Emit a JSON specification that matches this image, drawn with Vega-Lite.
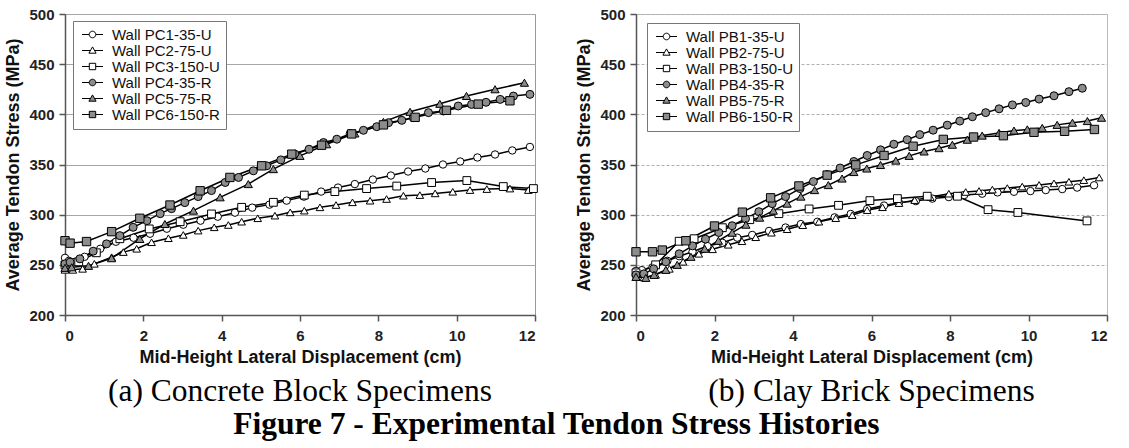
{
  "$schema": "https://vega.github.io/schema/vega-lite/v6.json",
  "padding": {"left": 4, "top": 6, "right": 0, "bottom": 0},
  "background": "white",
  "bounds": "flush",
  "spacing": 101,
  "resolve": {"scale": {"shape": "independent", "fill": "independent", "size": "independent"}, "legend": {"shape": "independent", "fill": "independent"}},
  "title": {"text": "Figure 7 - Experimental Tendon Stress Histories", "orient": "bottom", "anchor": "middle", "font": "Liberation Serif", "fontSize": 31.5, "fontWeight": "bold", "color": "black", "offset": 1},
  "config": {
    "axis": {"labelFont": "Liberation Sans", "labelFontSize": 15, "labelFontWeight": "bold", "labelColor": "#222", "titleFont": "Liberation Sans", "titleFontSize": 18, "titleFontWeight": "bold", "titleColor": "#111", "domainColor": "#555", "domainWidth": 1.5, "tickColor": "#555", "tickSize": 6, "tickWidth": 1.5, "gridColor": "#a6a6a6", "gridWidth": 1},
    "axisY": {"labelPadding": 5, "titlePadding": 6},
    "axisX": {"labelPadding": 7, "titlePadding": 5, "grid": false},
    "legend": {"labelFont": "Liberation Sans"}
  },
  "datasets": {
    "d": [
      {"p":"a","s":"Wall PC1-35-U","x":0,"y":257},{"p":"a","s":"Wall PC1-35-U","x":0.1,"y":254},{"p":"a","s":"Wall PC1-35-U","x":0.25,"y":253},{"p":"a","s":"Wall PC1-35-U","x":0.5,"y":258},{"p":"a","s":"Wall PC1-35-U","x":0.9,"y":266},{"p":"a","s":"Wall PC1-35-U","x":1.3,"y":273},{"p":"a","s":"Wall PC1-35-U","x":1.75,"y":277},{"p":"a","s":"Wall PC1-35-U","x":2.17,"y":281},{"p":"a","s":"Wall PC1-35-U","x":2.6,"y":286},{"p":"a","s":"Wall PC1-35-U","x":3.02,"y":290},{"p":"a","s":"Wall PC1-35-U","x":3.46,"y":294},{"p":"a","s":"Wall PC1-35-U","x":3.9,"y":298},{"p":"a","s":"Wall PC1-35-U","x":4.34,"y":302},{"p":"a","s":"Wall PC1-35-U","x":4.78,"y":307},{"p":"a","s":"Wall PC1-35-U","x":5.22,"y":310},{"p":"a","s":"Wall PC1-35-U","x":5.66,"y":314},{"p":"a","s":"Wall PC1-35-U","x":6.1,"y":318},{"p":"a","s":"Wall PC1-35-U","x":6.54,"y":323},{"p":"a","s":"Wall PC1-35-U","x":6.97,"y":327},{"p":"a","s":"Wall PC1-35-U","x":7.4,"y":330.5},{"p":"a","s":"Wall PC1-35-U","x":7.86,"y":335},{"p":"a","s":"Wall PC1-35-U","x":8.32,"y":339},{"p":"a","s":"Wall PC1-35-U","x":8.76,"y":343},{"p":"a","s":"Wall PC1-35-U","x":9.2,"y":346},{"p":"a","s":"Wall PC1-35-U","x":9.65,"y":350},{"p":"a","s":"Wall PC1-35-U","x":10.09,"y":353},{"p":"a","s":"Wall PC1-35-U","x":10.53,"y":357},{"p":"a","s":"Wall PC1-35-U","x":10.98,"y":360},{"p":"a","s":"Wall PC1-35-U","x":11.42,"y":364},{"p":"a","s":"Wall PC1-35-U","x":11.87,"y":367.5},
      {"p":"a","s":"Wall PC2-75-U","x":0,"y":245},{"p":"a","s":"Wall PC2-75-U","x":0.2,"y":245},{"p":"a","s":"Wall PC2-75-U","x":0.45,"y":246},{"p":"a","s":"Wall PC2-75-U","x":0.75,"y":251},{"p":"a","s":"Wall PC2-75-U","x":1.19,"y":257.6},{"p":"a","s":"Wall PC2-75-U","x":1.49,"y":262.7},{"p":"a","s":"Wall PC2-75-U","x":1.83,"y":266},{"p":"a","s":"Wall PC2-75-U","x":2.21,"y":272.5},{"p":"a","s":"Wall PC2-75-U","x":2.64,"y":276.5},{"p":"a","s":"Wall PC2-75-U","x":3.02,"y":279.8},{"p":"a","s":"Wall PC2-75-U","x":3.4,"y":284.1},{"p":"a","s":"Wall PC2-75-U","x":3.81,"y":287.4},{"p":"a","s":"Wall PC2-75-U","x":4.17,"y":289.7},{"p":"a","s":"Wall PC2-75-U","x":4.51,"y":293},{"p":"a","s":"Wall PC2-75-U","x":4.92,"y":296.4},{"p":"a","s":"Wall PC2-75-U","x":5.36,"y":299},{"p":"a","s":"Wall PC2-75-U","x":5.75,"y":302.3},{"p":"a","s":"Wall PC2-75-U","x":6.11,"y":304},{"p":"a","s":"Wall PC2-75-U","x":6.51,"y":307.3},{"p":"a","s":"Wall PC2-75-U","x":6.92,"y":309.6},{"p":"a","s":"Wall PC2-75-U","x":7.34,"y":312.3},{"p":"a","s":"Wall PC2-75-U","x":7.79,"y":313.9},{"p":"a","s":"Wall PC2-75-U","x":8.21,"y":315.6},{"p":"a","s":"Wall PC2-75-U","x":8.64,"y":318.9},{"p":"a","s":"Wall PC2-75-U","x":9.06,"y":319.5},{"p":"a","s":"Wall PC2-75-U","x":9.45,"y":321.2},{"p":"a","s":"Wall PC2-75-U","x":9.9,"y":322.8},{"p":"a","s":"Wall PC2-75-U","x":10.34,"y":324.5},{"p":"a","s":"Wall PC2-75-U","x":10.77,"y":325.5},{"p":"a","s":"Wall PC2-75-U","x":11.36,"y":326},{"p":"a","s":"Wall PC2-75-U","x":11.83,"y":324.5},
      {"p":"a","s":"Wall PC3-150-U","x":0,"y":250},{"p":"a","s":"Wall PC3-150-U","x":0.35,"y":253},{"p":"a","s":"Wall PC3-150-U","x":0.8,"y":262},{"p":"a","s":"Wall PC3-150-U","x":1.4,"y":276},{"p":"a","s":"Wall PC3-150-U","x":2.15,"y":285.8},{"p":"a","s":"Wall PC3-150-U","x":2.94,"y":293},{"p":"a","s":"Wall PC3-150-U","x":3.74,"y":300.7},{"p":"a","s":"Wall PC3-150-U","x":4.51,"y":307.3},{"p":"a","s":"Wall PC3-150-U","x":5.32,"y":312.3},{"p":"a","s":"Wall PC3-150-U","x":6.11,"y":319.5},{"p":"a","s":"Wall PC3-150-U","x":6.89,"y":323},{"p":"a","s":"Wall PC3-150-U","x":7.7,"y":326},{"p":"a","s":"Wall PC3-150-U","x":8.47,"y":328.5},{"p":"a","s":"Wall PC3-150-U","x":9.36,"y":332},{"p":"a","s":"Wall PC3-150-U","x":10.26,"y":334},{"p":"a","s":"Wall PC3-150-U","x":11.19,"y":328},{"p":"a","s":"Wall PC3-150-U","x":11.96,"y":326},
      {"p":"a","s":"Wall PC4-35-R","x":0,"y":251},{"p":"a","s":"Wall PC4-35-R","x":0.13,"y":252.7},{"p":"a","s":"Wall PC4-35-R","x":0.38,"y":256},{"p":"a","s":"Wall PC4-35-R","x":0.72,"y":263.6},{"p":"a","s":"Wall PC4-35-R","x":1.06,"y":270.9},{"p":"a","s":"Wall PC4-35-R","x":1.4,"y":279.1},{"p":"a","s":"Wall PC4-35-R","x":1.74,"y":287.4},{"p":"a","s":"Wall PC4-35-R","x":2.09,"y":294},{"p":"a","s":"Wall PC4-35-R","x":2.43,"y":301},{"p":"a","s":"Wall PC4-35-R","x":2.72,"y":306},{"p":"a","s":"Wall PC4-35-R","x":3.06,"y":312},{"p":"a","s":"Wall PC4-35-R","x":3.4,"y":318},{"p":"a","s":"Wall PC4-35-R","x":3.74,"y":324},{"p":"a","s":"Wall PC4-35-R","x":4.09,"y":332.1},{"p":"a","s":"Wall PC4-35-R","x":4.43,"y":337.1},{"p":"a","s":"Wall PC4-35-R","x":4.81,"y":343.7},{"p":"a","s":"Wall PC4-35-R","x":5.15,"y":348.7},{"p":"a","s":"Wall PC4-35-R","x":5.51,"y":354.6},{"p":"a","s":"Wall PC4-35-R","x":5.87,"y":360.3},{"p":"a","s":"Wall PC4-35-R","x":6.23,"y":365.2},{"p":"a","s":"Wall PC4-35-R","x":6.6,"y":371.9},{"p":"a","s":"Wall PC4-35-R","x":6.94,"y":375.2},{"p":"a","s":"Wall PC4-35-R","x":7.28,"y":380.8},{"p":"a","s":"Wall PC4-35-R","x":7.62,"y":384.1},{"p":"a","s":"Wall PC4-35-R","x":7.96,"y":387.7},{"p":"a","s":"Wall PC4-35-R","x":8.26,"y":391.7},{"p":"a","s":"Wall PC4-35-R","x":8.6,"y":394},{"p":"a","s":"Wall PC4-35-R","x":8.89,"y":396.7},{"p":"a","s":"Wall PC4-35-R","x":9.28,"y":401.7},{"p":"a","s":"Wall PC4-35-R","x":9.66,"y":403.3},{"p":"a","s":"Wall PC4-35-R","x":10.04,"y":408.3},{"p":"a","s":"Wall PC4-35-R","x":10.38,"y":409.9},{"p":"a","s":"Wall PC4-35-R","x":10.75,"y":412},{"p":"a","s":"Wall PC4-35-R","x":11.11,"y":414.9},{"p":"a","s":"Wall PC4-35-R","x":11.45,"y":418.2},{"p":"a","s":"Wall PC4-35-R","x":11.87,"y":419.9},
      {"p":"a","s":"Wall PC5-75-R","x":0,"y":247},{"p":"a","s":"Wall PC5-75-R","x":0.17,"y":247.5},{"p":"a","s":"Wall PC5-75-R","x":0.6,"y":249},{"p":"a","s":"Wall PC5-75-R","x":1.19,"y":256.6},{"p":"a","s":"Wall PC5-75-R","x":1.91,"y":275.8},{"p":"a","s":"Wall PC5-75-R","x":2.55,"y":290.7},{"p":"a","s":"Wall PC5-75-R","x":3.28,"y":304},{"p":"a","s":"Wall PC5-75-R","x":3.96,"y":317.3},{"p":"a","s":"Wall PC5-75-R","x":4.68,"y":330.5},{"p":"a","s":"Wall PC5-75-R","x":5.32,"y":345.4},{"p":"a","s":"Wall PC5-75-R","x":6.0,"y":358.6},{"p":"a","s":"Wall PC5-75-R","x":6.68,"y":370.2},{"p":"a","s":"Wall PC5-75-R","x":7.4,"y":381},{"p":"a","s":"Wall PC5-75-R","x":8.13,"y":392.5},{"p":"a","s":"Wall PC5-75-R","x":8.81,"y":402.5},{"p":"a","s":"Wall PC5-75-R","x":9.57,"y":410.5},{"p":"a","s":"Wall PC5-75-R","x":10.25,"y":418.3},{"p":"a","s":"Wall PC5-75-R","x":10.98,"y":425},{"p":"a","s":"Wall PC5-75-R","x":11.73,"y":431.5},
      {"p":"a","s":"Wall PC6-150-R","x":0,"y":274},{"p":"a","s":"Wall PC6-150-R","x":0.13,"y":271.6},{"p":"a","s":"Wall PC6-150-R","x":0.55,"y":273.2},{"p":"a","s":"Wall PC6-150-R","x":1.19,"y":283.1},{"p":"a","s":"Wall PC6-150-R","x":1.91,"y":296.4},{"p":"a","s":"Wall PC6-150-R","x":2.68,"y":309.6},{"p":"a","s":"Wall PC6-150-R","x":3.45,"y":323.8},{"p":"a","s":"Wall PC6-150-R","x":4.21,"y":337.1},{"p":"a","s":"Wall PC6-150-R","x":5.02,"y":348.7},{"p":"a","s":"Wall PC6-150-R","x":5.79,"y":360.3},{"p":"a","s":"Wall PC6-150-R","x":6.55,"y":369.2},{"p":"a","s":"Wall PC6-150-R","x":7.32,"y":380.5},{"p":"a","s":"Wall PC6-150-R","x":8.13,"y":389.5},{"p":"a","s":"Wall PC6-150-R","x":8.94,"y":397},{"p":"a","s":"Wall PC6-150-R","x":9.74,"y":404},{"p":"a","s":"Wall PC6-150-R","x":10.55,"y":410.2},{"p":"a","s":"Wall PC6-150-R","x":11.36,"y":413.5},
      {"p":"b","s":"Wall PB1-35-U","x":0,"y":244},{"p":"b","s":"Wall PB1-35-U","x":0.15,"y":244.7},{"p":"b","s":"Wall PB1-35-U","x":0.42,"y":247.5},{"p":"b","s":"Wall PB1-35-U","x":0.8,"y":254},{"p":"b","s":"Wall PB1-35-U","x":1.1,"y":258.6},{"p":"b","s":"Wall PB1-35-U","x":1.44,"y":263},{"p":"b","s":"Wall PB1-35-U","x":1.82,"y":268.7},{"p":"b","s":"Wall PB1-35-U","x":2.2,"y":272},{"p":"b","s":"Wall PB1-35-U","x":2.58,"y":277.1},{"p":"b","s":"Wall PB1-35-U","x":2.96,"y":279.8},{"p":"b","s":"Wall PB1-35-U","x":3.39,"y":283.8},{"p":"b","s":"Wall PB1-35-U","x":3.81,"y":287.2},{"p":"b","s":"Wall PB1-35-U","x":4.2,"y":290.6},{"p":"b","s":"Wall PB1-35-U","x":4.62,"y":292.9},{"p":"b","s":"Wall PB1-35-U","x":5.06,"y":297.3},{"p":"b","s":"Wall PB1-35-U","x":5.47,"y":300.7},{"p":"b","s":"Wall PB1-35-U","x":5.89,"y":305.7},{"p":"b","s":"Wall PB1-35-U","x":6.32,"y":309.1},{"p":"b","s":"Wall PB1-35-U","x":6.7,"y":312},{"p":"b","s":"Wall PB1-35-U","x":7.13,"y":313.5},{"p":"b","s":"Wall PB1-35-U","x":7.55,"y":316},{"p":"b","s":"Wall PB1-35-U","x":7.97,"y":317.5},{"p":"b","s":"Wall PB1-35-U","x":8.36,"y":319.5},{"p":"b","s":"Wall PB1-35-U","x":8.82,"y":320.9},{"p":"b","s":"Wall PB1-35-U","x":9.21,"y":322.2},{"p":"b","s":"Wall PB1-35-U","x":9.63,"y":322.8},{"p":"b","s":"Wall PB1-35-U","x":10.05,"y":323.5},{"p":"b","s":"Wall PB1-35-U","x":10.44,"y":324.5},{"p":"b","s":"Wall PB1-35-U","x":10.86,"y":325.5},{"p":"b","s":"Wall PB1-35-U","x":11.24,"y":327},{"p":"b","s":"Wall PB1-35-U","x":11.67,"y":329.3},
      {"p":"b","s":"Wall PB2-75-U","x":0,"y":238},{"p":"b","s":"Wall PB2-75-U","x":0.2,"y":237.5},{"p":"b","s":"Wall PB2-75-U","x":0.5,"y":240},{"p":"b","s":"Wall PB2-75-U","x":0.85,"y":246},{"p":"b","s":"Wall PB2-75-U","x":1.2,"y":253},{"p":"b","s":"Wall PB2-75-U","x":1.6,"y":261},{"p":"b","s":"Wall PB2-75-U","x":1.95,"y":265.5},{"p":"b","s":"Wall PB2-75-U","x":2.35,"y":270},{"p":"b","s":"Wall PB2-75-U","x":2.7,"y":273.5},{"p":"b","s":"Wall PB2-75-U","x":3.05,"y":277.5},{"p":"b","s":"Wall PB2-75-U","x":3.45,"y":282},{"p":"b","s":"Wall PB2-75-U","x":3.85,"y":285.5},{"p":"b","s":"Wall PB2-75-U","x":4.25,"y":289.5},{"p":"b","s":"Wall PB2-75-U","x":4.66,"y":293},{"p":"b","s":"Wall PB2-75-U","x":5.09,"y":296.5},{"p":"b","s":"Wall PB2-75-U","x":5.51,"y":299.5},{"p":"b","s":"Wall PB2-75-U","x":5.89,"y":304.5},{"p":"b","s":"Wall PB2-75-U","x":6.28,"y":307.4},{"p":"b","s":"Wall PB2-75-U","x":6.7,"y":311.5},{"p":"b","s":"Wall PB2-75-U","x":7.1,"y":314.5},{"p":"b","s":"Wall PB2-75-U","x":7.5,"y":317.5},{"p":"b","s":"Wall PB2-75-U","x":7.97,"y":320.9},{"p":"b","s":"Wall PB2-75-U","x":8.4,"y":322.6},{"p":"b","s":"Wall PB2-75-U","x":8.74,"y":323.6},{"p":"b","s":"Wall PB2-75-U","x":9.08,"y":325},{"p":"b","s":"Wall PB2-75-U","x":9.46,"y":326.5},{"p":"b","s":"Wall PB2-75-U","x":9.84,"y":328},{"p":"b","s":"Wall PB2-75-U","x":10.27,"y":329.6},{"p":"b","s":"Wall PB2-75-U","x":10.65,"y":331.2},{"p":"b","s":"Wall PB2-75-U","x":11.03,"y":332.8},{"p":"b","s":"Wall PB2-75-U","x":11.41,"y":334.4},{"p":"b","s":"Wall PB2-75-U","x":11.8,"y":337},
      {"p":"b","s":"Wall PB3-150-U","x":0,"y":242},{"p":"b","s":"Wall PB3-150-U","x":0.5,"y":250},{"p":"b","s":"Wall PB3-150-U","x":1.1,"y":273.5},{"p":"b","s":"Wall PB3-150-U","x":1.48,"y":276},{"p":"b","s":"Wall PB3-150-U","x":2.2,"y":287},{"p":"b","s":"Wall PB3-150-U","x":2.9,"y":295},{"p":"b","s":"Wall PB3-150-U","x":3.64,"y":301},{"p":"b","s":"Wall PB3-150-U","x":4.41,"y":305.7},{"p":"b","s":"Wall PB3-150-U","x":5.16,"y":309.3},{"p":"b","s":"Wall PB3-150-U","x":5.96,"y":314},{"p":"b","s":"Wall PB3-150-U","x":6.66,"y":316},{"p":"b","s":"Wall PB3-150-U","x":7.42,"y":318.4},{"p":"b","s":"Wall PB3-150-U","x":8.19,"y":318.4},{"p":"b","s":"Wall PB3-150-U","x":8.97,"y":305},{"p":"b","s":"Wall PB3-150-U","x":9.73,"y":302.2},{"p":"b","s":"Wall PB3-150-U","x":11.49,"y":293.8},
      {"p":"b","s":"Wall PB4-35-R","x":0,"y":240},{"p":"b","s":"Wall PB4-35-R","x":0.2,"y":241},{"p":"b","s":"Wall PB4-35-R","x":0.45,"y":246},{"p":"b","s":"Wall PB4-35-R","x":0.76,"y":253},{"p":"b","s":"Wall PB4-35-R","x":1.1,"y":261},{"p":"b","s":"Wall PB4-35-R","x":1.44,"y":268.9},{"p":"b","s":"Wall PB4-35-R","x":1.77,"y":275.6},{"p":"b","s":"Wall PB4-35-R","x":2.11,"y":282.2},{"p":"b","s":"Wall PB4-35-R","x":2.45,"y":289},{"p":"b","s":"Wall PB4-35-R","x":2.79,"y":296},{"p":"b","s":"Wall PB4-35-R","x":3.13,"y":303},{"p":"b","s":"Wall PB4-35-R","x":3.47,"y":311},{"p":"b","s":"Wall PB4-35-R","x":3.81,"y":318},{"p":"b","s":"Wall PB4-35-R","x":4.18,"y":326},{"p":"b","s":"Wall PB4-35-R","x":4.52,"y":333},{"p":"b","s":"Wall PB4-35-R","x":4.87,"y":340},{"p":"b","s":"Wall PB4-35-R","x":5.2,"y":346.5},{"p":"b","s":"Wall PB4-35-R","x":5.55,"y":353},{"p":"b","s":"Wall PB4-35-R","x":5.89,"y":359},{"p":"b","s":"Wall PB4-35-R","x":6.23,"y":364.6},{"p":"b","s":"Wall PB4-35-R","x":6.57,"y":370.2},{"p":"b","s":"Wall PB4-35-R","x":6.91,"y":374.7},{"p":"b","s":"Wall PB4-35-R","x":7.23,"y":379.8},{"p":"b","s":"Wall PB4-35-R","x":7.57,"y":384.2},{"p":"b","s":"Wall PB4-35-R","x":7.93,"y":389.2},{"p":"b","s":"Wall PB4-35-R","x":8.25,"y":393.3},{"p":"b","s":"Wall PB4-35-R","x":8.57,"y":397.6},{"p":"b","s":"Wall PB4-35-R","x":8.91,"y":401.7},{"p":"b","s":"Wall PB4-35-R","x":9.25,"y":405.5},{"p":"b","s":"Wall PB4-35-R","x":9.59,"y":409.4},{"p":"b","s":"Wall PB4-35-R","x":9.93,"y":411.8},{"p":"b","s":"Wall PB4-35-R","x":10.27,"y":415.2},{"p":"b","s":"Wall PB4-35-R","x":10.65,"y":418.5},{"p":"b","s":"Wall PB4-35-R","x":11.03,"y":422.6},{"p":"b","s":"Wall PB4-35-R","x":11.37,"y":426},
      {"p":"b","s":"Wall PB5-75-R","x":0,"y":238},{"p":"b","s":"Wall PB5-75-R","x":0.25,"y":237},{"p":"b","s":"Wall PB5-75-R","x":0.46,"y":240},{"p":"b","s":"Wall PB5-75-R","x":0.76,"y":245},{"p":"b","s":"Wall PB5-75-R","x":1.05,"y":250},{"p":"b","s":"Wall PB5-75-R","x":1.4,"y":258},{"p":"b","s":"Wall PB5-75-R","x":1.75,"y":266},{"p":"b","s":"Wall PB5-75-R","x":2.1,"y":274},{"p":"b","s":"Wall PB5-75-R","x":2.45,"y":282},{"p":"b","s":"Wall PB5-75-R","x":2.8,"y":290},{"p":"b","s":"Wall PB5-75-R","x":3.15,"y":297},{"p":"b","s":"Wall PB5-75-R","x":3.5,"y":304},{"p":"b","s":"Wall PB5-75-R","x":3.85,"y":311},{"p":"b","s":"Wall PB5-75-R","x":4.2,"y":318},{"p":"b","s":"Wall PB5-75-R","x":4.55,"y":324.5},{"p":"b","s":"Wall PB5-75-R","x":4.9,"y":329.5},{"p":"b","s":"Wall PB5-75-R","x":5.25,"y":336},{"p":"b","s":"Wall PB5-75-R","x":5.55,"y":342.5},{"p":"b","s":"Wall PB5-75-R","x":5.88,"y":346},{"p":"b","s":"Wall PB5-75-R","x":6.23,"y":349.5},{"p":"b","s":"Wall PB5-75-R","x":6.62,"y":353.9},{"p":"b","s":"Wall PB5-75-R","x":6.96,"y":358.6},{"p":"b","s":"Wall PB5-75-R","x":7.34,"y":363},{"p":"b","s":"Wall PB5-75-R","x":7.72,"y":366.3},{"p":"b","s":"Wall PB5-75-R","x":8.06,"y":369.7},{"p":"b","s":"Wall PB5-75-R","x":8.44,"y":374.7},{"p":"b","s":"Wall PB5-75-R","x":8.82,"y":378.8},{"p":"b","s":"Wall PB5-75-R","x":9.25,"y":381.5},{"p":"b","s":"Wall PB5-75-R","x":9.63,"y":383.8},{"p":"b","s":"Wall PB5-75-R","x":9.97,"y":385},{"p":"b","s":"Wall PB5-75-R","x":10.35,"y":386.5},{"p":"b","s":"Wall PB5-75-R","x":10.73,"y":389.5},{"p":"b","s":"Wall PB5-75-R","x":11.12,"y":391.6},{"p":"b","s":"Wall PB5-75-R","x":11.5,"y":393.3},{"p":"b","s":"Wall PB5-75-R","x":11.86,"y":396.6},
      {"p":"b","s":"Wall PB6-150-R","x":0,"y":263},{"p":"b","s":"Wall PB6-150-R","x":0.42,"y":263},{"p":"b","s":"Wall PB6-150-R","x":0.67,"y":264.7},{"p":"b","s":"Wall PB6-150-R","x":1.27,"y":274},{"p":"b","s":"Wall PB6-150-R","x":2.0,"y":288.7},{"p":"b","s":"Wall PB6-150-R","x":2.71,"y":302.5},{"p":"b","s":"Wall PB6-150-R","x":3.43,"y":316.8},{"p":"b","s":"Wall PB6-150-R","x":4.15,"y":328.6},{"p":"b","s":"Wall PB6-150-R","x":4.87,"y":339.4},{"p":"b","s":"Wall PB6-150-R","x":5.6,"y":349.6},{"p":"b","s":"Wall PB6-150-R","x":6.32,"y":359},{"p":"b","s":"Wall PB6-150-R","x":7.06,"y":368.2},{"p":"b","s":"Wall PB6-150-R","x":7.83,"y":375},{"p":"b","s":"Wall PB6-150-R","x":8.6,"y":377.4},{"p":"b","s":"Wall PB6-150-R","x":9.36,"y":378.7},{"p":"b","s":"Wall PB6-150-R","x":10.14,"y":382.1},{"p":"b","s":"Wall PB6-150-R","x":10.92,"y":383.1},{"p":"b","s":"Wall PB6-150-R","x":11.68,"y":384.9}
    ]
  },
  "hconcat": [
    {
      "width": 470,
      "height": 301,
      "title": {"text": "(a) Concrete Block Specimens", "orient": "bottom", "anchor": "middle", "font": "Liberation Serif", "fontSize": 31.5, "fontWeight": "normal", "color": "black", "offset": 10},
      "data": {"name": "d"},
      "transform": [{"filter": "datum.p == 'a'"}],
      "view": {"stroke": "#999999"},
      "resolve": {"scale": {"shape": "independent", "fill": "independent", "size": "independent"}, "legend": {"shape": "independent", "fill": "independent"}},
      "encoding": {
        "x": {"field": "x", "type": "quantitative", "scale": {"domain": [0, 12], "nice": false}, "axis": {"title": "Mid-Height Lateral Displacement (cm)", "values": [0, 2, 4, 6, 8, 10, 12], "grid": false}},
        "y": {"field": "y", "type": "quantitative", "scale": {"domain": [200, 500], "nice": false, "zero": false}, "axis": {"title": "Average Tendon Stress (MPa)", "values": [200, 250, 300, 350, 400, 450, 500], "grid": true, "gridColor": "#a6a6a6"}}
      },
      "layer": [
        {"mark": {"type": "line", "color": "black", "strokeWidth": 1.5}, "encoding": {"detail": {"field": "s"}}},
        {
          "mark": {"type": "point", "filled": true, "stroke": "black", "strokeWidth": 1, "opacity": 1},
          "encoding": {
            "shape": {"field": "s", "type": "nominal", "scale": {"domain": ["Wall PC1-35-U", "Wall PC2-75-U", "Wall PC3-150-U", "Wall PC4-35-R", "Wall PC5-75-R", "Wall PC6-150-R"], "range": ["circle", "triangle-up", "square", "circle", "triangle-up", "square"]}, "legend": null},
            "fill": {"field": "s", "type": "nominal", "scale": {"domain": ["Wall PC1-35-U", "Wall PC2-75-U", "Wall PC3-150-U", "Wall PC4-35-R", "Wall PC5-75-R", "Wall PC6-150-R"], "range": ["white", "white", "white", "#8c8c8c", "#8c8c8c", "#8c8c8c"]}, "legend": null},
            "size": {"field": "s", "type": "nominal", "scale": {"domain": ["Wall PC1-35-U", "Wall PC2-75-U", "Wall PC3-150-U", "Wall PC4-35-R", "Wall PC5-75-R", "Wall PC6-150-R"], "range": [55, 70, 80, 55, 70, 80]}, "legend": null}
          }
        },
        {
          "mark": {"type": "point", "filled": true, "stroke": "black", "strokeWidth": 1, "opacity": 0},
          "encoding": {
            "shape": {"field": "s", "type": "nominal", "scale": {"domain": ["Wall PC1-35-U", "Wall PC2-75-U", "Wall PC3-150-U", "Wall PC4-35-R", "Wall PC5-75-R", "Wall PC6-150-R"], "range": ["M-2.1,0H-0.66M0.66,0H2.1M0.66,0A0.66,0.66,0,1,1,-0.66,0A0.66,0.66,0,1,1,0.66,0Z", "M-2.1,0H-0.41M0.41,0H2.1M0,-0.72L0.72,0.54L-0.72,0.54Z", "M-2.1,0H-0.64M0.64,0H2.1M-0.64,-0.64H0.64V0.64H-0.64Z", "M-2.1,0H-0.66M0.66,0H2.1M0.66,0A0.66,0.66,0,1,1,-0.66,0A0.66,0.66,0,1,1,0.66,0Z", "M-2.1,0H-0.41M0.41,0H2.1M0,-0.72L0.72,0.54L-0.72,0.54Z", "M-2.1,0H-0.64M0.64,0H2.1M-0.64,-0.64H0.64V0.64H-0.64Z"]},
              "legend": {"title": null, "orient": "none", "legendX": 8, "legendY": 7, "fillColor": "white", "strokeColor": "#777777", "padding": 6, "labelFontSize": 15, "labelColor": "#111111", "labelOffset": 12, "symbolOffset": 6, "symbolSize": 100, "symbolStrokeColor": "black", "symbolStrokeWidth": 1, "symbolOpacity": 1, "symbolFillColor": "white", "rowPadding": 0}},
            "fill": {"field": "s", "type": "nominal", "scale": {"domain": ["Wall PC1-35-U", "Wall PC2-75-U", "Wall PC3-150-U", "Wall PC4-35-R", "Wall PC5-75-R", "Wall PC6-150-R"], "range": ["white", "white", "white", "#8c8c8c", "#8c8c8c", "#8c8c8c"]},
              "legend": {"title": null, "orient": "none", "legendX": 8, "legendY": 7, "fillColor": "white", "strokeColor": "#777777", "padding": 6, "labelFontSize": 15, "labelColor": "#111111", "labelOffset": 12, "symbolOffset": 6, "symbolSize": 100, "symbolStrokeColor": "black", "symbolStrokeWidth": 1, "symbolOpacity": 1, "symbolFillColor": "white", "rowPadding": 0}}
          }
        }
      ]
    },
    {
      "width": 471,
      "height": 301,
      "title": {"text": "(b) Clay Brick Specimens", "orient": "bottom", "anchor": "middle", "font": "Liberation Serif", "fontSize": 31.5, "fontWeight": "normal", "color": "black", "offset": 10},
      "data": {"name": "d"},
      "transform": [{"filter": "datum.p == 'b'"}],
      "view": {"stroke": "#bbbbbb"},
      "resolve": {"scale": {"shape": "independent", "fill": "independent", "size": "independent"}, "legend": {"shape": "independent", "fill": "independent"}},
      "encoding": {
        "x": {"field": "x", "type": "quantitative", "scale": {"domain": [0, 12], "nice": false}, "axis": {"title": "Mid-Height Lateral Displacement (cm)", "values": [0, 2, 4, 6, 8, 10, 12], "grid": false}},
        "y": {"field": "y", "type": "quantitative", "scale": {"domain": [200, 500], "nice": false, "zero": false}, "axis": {"title": "Average Tendon Stress (MPa)", "values": [200, 250, 300, 350, 400, 450, 500], "grid": true, "gridColor": "#b0b0b0", "gridDash": [3, 2]}}
      },
      "layer": [
        {"mark": {"type": "line", "color": "black", "strokeWidth": 1.5}, "encoding": {"detail": {"field": "s"}}},
        {
          "mark": {"type": "point", "filled": true, "stroke": "black", "strokeWidth": 1, "opacity": 1},
          "encoding": {
            "shape": {"field": "s", "type": "nominal", "scale": {"domain": ["Wall PB1-35-U", "Wall PB2-75-U", "Wall PB3-150-U", "Wall PB4-35-R", "Wall PB5-75-R", "Wall PB6-150-R"], "range": ["circle", "triangle-up", "square", "circle", "triangle-up", "square"]}, "legend": null},
            "fill": {"field": "s", "type": "nominal", "scale": {"domain": ["Wall PB1-35-U", "Wall PB2-75-U", "Wall PB3-150-U", "Wall PB4-35-R", "Wall PB5-75-R", "Wall PB6-150-R"], "range": ["white", "white", "white", "#8c8c8c", "#8c8c8c", "#8c8c8c"]}, "legend": null},
            "size": {"field": "s", "type": "nominal", "scale": {"domain": ["Wall PB1-35-U", "Wall PB2-75-U", "Wall PB3-150-U", "Wall PB4-35-R", "Wall PB5-75-R", "Wall PB6-150-R"], "range": [55, 70, 80, 55, 70, 80]}, "legend": null}
          }
        },
        {
          "mark": {"type": "point", "filled": true, "stroke": "black", "strokeWidth": 1, "opacity": 0},
          "encoding": {
            "shape": {"field": "s", "type": "nominal", "scale": {"domain": ["Wall PB1-35-U", "Wall PB2-75-U", "Wall PB3-150-U", "Wall PB4-35-R", "Wall PB5-75-R", "Wall PB6-150-R"], "range": ["M-2.1,0H-0.66M0.66,0H2.1M0.66,0A0.66,0.66,0,1,1,-0.66,0A0.66,0.66,0,1,1,0.66,0Z", "M-2.1,0H-0.41M0.41,0H2.1M0,-0.72L0.72,0.54L-0.72,0.54Z", "M-2.1,0H-0.64M0.64,0H2.1M-0.64,-0.64H0.64V0.64H-0.64Z", "M-2.1,0H-0.66M0.66,0H2.1M0.66,0A0.66,0.66,0,1,1,-0.66,0A0.66,0.66,0,1,1,0.66,0Z", "M-2.1,0H-0.41M0.41,0H2.1M0,-0.72L0.72,0.54L-0.72,0.54Z", "M-2.1,0H-0.64M0.64,0H2.1M-0.64,-0.64H0.64V0.64H-0.64Z"]},
              "legend": {"title": null, "orient": "none", "legendX": 11, "legendY": 9, "fillColor": "white", "strokeColor": "#777777", "padding": 6, "labelFontSize": 15, "labelColor": "#111111", "labelOffset": 12, "symbolOffset": 6, "symbolSize": 100, "symbolStrokeColor": "black", "symbolStrokeWidth": 1, "symbolOpacity": 1, "symbolFillColor": "white", "rowPadding": 0}},
            "fill": {"field": "s", "type": "nominal", "scale": {"domain": ["Wall PB1-35-U", "Wall PB2-75-U", "Wall PB3-150-U", "Wall PB4-35-R", "Wall PB5-75-R", "Wall PB6-150-R"], "range": ["white", "white", "white", "#8c8c8c", "#8c8c8c", "#8c8c8c"]},
              "legend": {"title": null, "orient": "none", "legendX": 11, "legendY": 9, "fillColor": "white", "strokeColor": "#777777", "padding": 6, "labelFontSize": 15, "labelColor": "#111111", "labelOffset": 12, "symbolOffset": 6, "symbolSize": 100, "symbolStrokeColor": "black", "symbolStrokeWidth": 1, "symbolOpacity": 1, "symbolFillColor": "white", "rowPadding": 0}}
          }
        }
      ]
    }
  ]
}
